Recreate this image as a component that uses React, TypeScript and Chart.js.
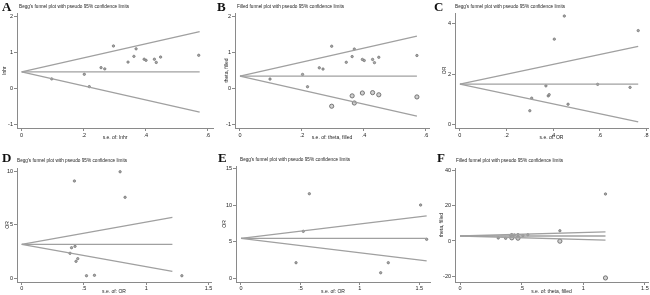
import React, { useEffect, useRef } from 'react';
import { Chart, registerables } from 'chart.js';

Chart.register(...registerables);

const SANS = '"Liberation Sans", Arial, sans-serif';
const SERIF = '"Liberation Serif", "Times New Roman", serif';
const LINE = '#a0a0a0';
const AXIS = '#8a8a8a';
const TEXT = '#222222';

// ---------- Panel A ----------
const seA = [0.097, 0.202, 0.218, 0.256, 0.268, 0.296, 0.343, 0.362, 0.369, 0.395, 0.401, 0.428, 0.434, 0.448, 0.571];
const lnhrA = [0.26, 0.39, 0.045, 0.575, 0.54, 1.18, 0.73, 0.89, 1.10, 0.81, 0.78, 0.81, 0.72, 0.87, 0.92];
const funnelSeA = [0, 0.574];
const upperA = [0.455, 1.58];
const lowerA = [0.455, -0.67];
const centerA = [0.455, 0.455];
const xTicksA = [0, 0.2, 0.4, 0.6];
const xLabelsA = ['0', '.2', '.4', '.6'];
const yTicksA = [-1, 0, 1, 2];
const yLabelsA = ['-1', '0', '1', '2'];

// ---------- Panel B ----------
const seB = seA;
const thetaB = lnhrA;
const seFilledB = [0.296, 0.362, 0.369, 0.395, 0.428, 0.448, 0.571];
const thetaFilledB = [-0.50, -0.21, -0.41, -0.13, -0.12, -0.18, -0.24];
const funnelSeB = [0, 0.571];
const upperB = [0.345, 1.465];
const lowerB = [0.345, -0.775];
const centerB = [0.345, 0.345];

// ---------- Panel C ----------
const seC = [0.300, 0.308, 0.369, 0.379, 0.383, 0.405, 0.448, 0.464, 0.591, 0.730, 0.765];
const orC = [0.54, 1.04, 1.53, 1.13, 1.18, 3.39, 4.31, 0.80, 1.59, 1.47, 3.73];
const funnelSeC = [0, 0.765];
const upperC = [1.60, 3.10];
const lowerC = [1.60, 0.10];
const centerC = [1.60, 1.60];
const xTicksC = [0, 0.2, 0.4, 0.6, 0.8];
const xLabelsC = ['0', '.2', '.4', '.6', '.8'];
const yTicksC = [0, 2, 4];
const yLabelsC = ['0', '2', '4'];

// ---------- Panel D ----------
const seD = [0.388, 0.400, 0.423, 0.428, 0.436, 0.450, 0.520, 0.584, 0.790, 0.830, 1.286];
const orD = [2.33, 2.85, 9.07, 2.98, 1.58, 1.83, 0.24, 0.28, 9.93, 7.55, 0.24];
const funnelSeD = [0, 1.21];
const upperD = [3.17, 5.68];
const lowerD = [3.17, 0.65];
const centerD = [3.17, 3.17];
const xTicksBig = [0, 0.5, 1, 1.5];
const xLabelsBig = ['0', '.5', '1', '1.5'];
const yTicksD = [0, 5, 10];
const yLabelsD = ['0', '5', '10'];

// ---------- Panel E ----------
const seE = [0.463, 0.524, 0.575, 1.175, 1.239, 1.511, 1.562];
const orE = [2.13, 6.41, 11.54, 0.76, 2.13, 10.0, 5.32];
const funnelSeE = [0, 1.562];
const upperE = [5.45, 8.51];
const lowerE = [5.45, 2.39];
const centerE = [5.45, 5.45];
const yTicksE = [0, 5, 10, 15];
const yLabelsE = ['0', '5', '10', '15'];

// ---------- Panel F ----------
const seF = [0.31, 0.37, 0.41, 0.42, 0.44, 0.47, 0.51, 0.55, 0.81, 1.18];
const thetaF = [1.7, 1.5, 3.2, 3.6, 3.4, 3.6, 3.0, 3.5, 5.8, 26.6];
const seFilledF = [0.42, 0.47, 0.81, 1.18];
const thetaFilledF = [1.8, 1.6, -0.1, -20.9];
const funnelSeF = [0, 1.18];
const upperF = [2.83, 5.14];
const lowerF = [2.83, 0.52];
const centerF = [2.83, 2.83];
const yTicksF = [-20, 0, 20, 40];
const yLabelsF = ['-20', '0', '20', '40'];

const BEGG = "Begg's funnel plot with pseudo 95% confidence limits";
const FILLED = 'Filled funnel plot with pseudo 95% confidence limits';

const pts = (xs: number[], ys: number[]) => xs.map((x, i) => ({ x, y: ys[i] }));

const titlePlugin = {
  id: 'panelTitle',
  afterDraw(chart: any, _args: any, opts: any) {
    const ctx = chart.ctx;
    ctx.save();
    ctx.font = `${opts.size}px ${SANS}`;
    ctx.fillStyle = TEXT;
    ctx.textBaseline = 'middle';
    ctx.textAlign = 'left';
    ctx.fillText(opts.text, opts.x, opts.y);
    ctx.restore();
  },
};

type PanelCfg = {
  letter: string;
  letterX: number;
  letterY: number;
  title: string;
  titleX: number;
  titleY: number;
  canvas: { left: number; top: number; w: number; h: number };
  yAxisW: number;
  xAxisH: number;
  padTop: number;
  padRight: number;
  xRange: [number, number];
  yRange: [number, number];
  xTicks: number[];
  xLabels: string[];
  yTicks: number[];
  yLabels: string[];
  xTitle: string;
  yTitle: string;
  yTitlePad: number;
  xTitlePad: number;
  xTickPad: number;
  se: number[];
  val: number[];
  seFilled?: number[];
  valFilled?: number[];
  funnelSe: number[];
  upper: number[];
  lower: number[];
  center: number[];
};

const labelFor = (ticks: number[], labels: string[]) => (v: any) => {
  const i = ticks.findIndex((t) => Math.abs(t - Number(v)) < 1e-9);
  return i >= 0 ? labels[i] : '';
};

function Panel({ cfg }: { cfg: PanelCfg }) {
  const ref = useRef<HTMLCanvasElement>(null);
  useEffect(() => {
    if (!ref.current) return;
    const lineDs = (ys: number[]) => ({
      type: 'line' as const,
      data: pts(cfg.funnelSe, ys),
      borderColor: LINE,
      borderWidth: 1.3,
      pointRadius: 0,
      fill: false,
      tension: 0,
    });
    const datasets: any[] = [lineDs(cfg.upper), lineDs(cfg.lower), lineDs(cfg.center)];
    datasets.push({
      type: 'scatter',
      data: pts(cfg.se, cfg.val),
      pointStyle: 'circle',
      pointRadius: 1.2,
      backgroundColor: '#a8a8a8',
      borderColor: '#6f6f6f',
      borderWidth: 0.7,
    });
    if (cfg.seFilled && cfg.valFilled) {
      datasets.push({
        type: 'scatter',
        data: pts(cfg.seFilled, cfg.valFilled),
        pointStyle: 'circle',
        pointRadius: 2.1,
        backgroundColor: '#d0d0d0',
        borderColor: '#6a6a6a',
        borderWidth: 0.9,
      });
    }
    const tickFont = { family: SANS, size: 5.5 };
    const chart = new Chart(ref.current, {
      type: 'scatter',
      data: { datasets },
      plugins: [titlePlugin],
      options: {
        responsive: false,
        maintainAspectRatio: false,
        animation: false,
        events: [],
        layout: {
          autoPadding: false,
          padding: { top: cfg.padTop, right: cfg.padRight, left: 0, bottom: 0 },
        },
        plugins: {
          legend: { display: false },
          tooltip: { enabled: false },
          // @ts-ignore
          panelTitle: { text: cfg.title, x: cfg.titleX, y: cfg.titleY, size: 4.7 },
        },
        scales: {
          x: {
            type: 'linear',
            position: 'bottom',
            min: cfg.xRange[0],
            max: cfg.xRange[1],
            border: { display: true, color: AXIS, width: 1 },
            grid: { display: true, drawOnChartArea: false, drawTicks: true, tickLength: 3, tickColor: AXIS },
            ticks: {
              font: tickFont,
              color: TEXT,
              padding: cfg.xTickPad,
              maxRotation: 0,
              autoSkip: false,
              callback: labelFor(cfg.xTicks, cfg.xLabels),
            },
            title: {
              display: true,
              text: cfg.xTitle,
              color: TEXT,
              font: { family: SANS, size: 5 },
              padding: { top: 0, bottom: cfg.xTitlePad },
            },
            afterBuildTicks: (axis: any) => {
              axis.ticks = cfg.xTicks.map((v) => ({ value: v }));
            },
            afterFit: (axis: any) => {
              axis.height = cfg.xAxisH;
            },
          },
          y: {
            type: 'linear',
            position: 'left',
            min: cfg.yRange[0],
            max: cfg.yRange[1],
            border: { display: true, color: AXIS, width: 1 },
            grid: { display: true, drawOnChartArea: false, drawTicks: true, tickLength: 3, tickColor: AXIS },
            ticks: {
              font: tickFont,
              color: TEXT,
              padding: 1,
              autoSkip: false,
              callback: labelFor(cfg.yTicks, cfg.yLabels),
            },
            title: {
              display: true,
              text: cfg.yTitle,
              color: TEXT,
              font: { family: SANS, size: 5 },
              padding: { top: cfg.yTitlePad, bottom: 0 },
            },
            afterBuildTicks: (axis: any) => {
              axis.ticks = cfg.yTicks.map((v) => ({ value: v }));
            },
            afterFit: (axis: any) => {
              axis.width = cfg.yAxisW;
            },
          },
        },
      } as any,
    });
    return () => chart.destroy();
  }, [cfg]);

  const c = cfg.canvas;
  return (
    <>
      <canvas
        ref={ref}
        width={c.w}
        height={c.h}
        style={{ position: 'absolute', left: c.left, top: c.top, width: c.w, height: c.h }}
      />
      <div
        style={{
          position: 'absolute',
          left: cfg.letterX,
          top: cfg.letterY - 2.3,
          fontFamily: SERIF,
          fontWeight: 'bold',
          fontSize: 13,
          lineHeight: '13px',
          color: '#111',
        }}
      >
        {cfg.letter}
      </div>
    </>
  );
}

const panels: PanelCfg[] = [
  {
    letter: 'A', letterX: 2, letterY: 2, title: BEGG, titleX: 19, titleY: 6.5,
    canvas: { left: 0, top: 0, w: 216, h: 143 }, yAxisW: 17, xAxisH: 15, padTop: 13, padRight: 3,
    xRange: [-0.015, 0.617], yRange: [-1.11, 2.1], xTicks: xTicksA, xLabels: xLabelsA,
    yTicks: yTicksA, yLabels: yLabelsA, xTitle: 's.e. of: lnhr', yTitle: 'lnhr', yTitlePad: 2, xTitlePad: 2, xTickPad: 1,
    se: seA, val: lnhrA, funnelSe: funnelSeA, upper: upperA, lower: lowerA, center: centerA,
  },
  {
    letter: 'B', letterX: 217, letterY: 2, title: FILLED, titleX: 21, titleY: 6.5,
    canvas: { left: 216, top: 0, w: 216, h: 143 }, yAxisW: 19, xAxisH: 15, padTop: 13, padRight: 3,
    xRange: [-0.016, 0.61], yRange: [-1.11, 2.11], xTicks: xTicksA, xLabels: xLabelsA,
    yTicks: yTicksA, yLabels: yLabelsA, xTitle: 's.e. of: theta, filled', yTitle: 'theta, filled', yTitlePad: 8, xTitlePad: 2, xTickPad: 1,
    se: seB, val: thetaB, seFilled: seFilledB, valFilled: thetaFilledB,
    funnelSe: funnelSeB, upper: upperB, lower: lowerB, center: centerB,
  },
  {
    letter: 'C', letterX: 434, letterY: 2, title: BEGG, titleX: 23, titleY: 6.5,
    canvas: { left: 432, top: 0, w: 218, h: 143 }, yAxisW: 23, xAxisH: 15, padTop: 13, padRight: 2,
    xRange: [-0.021, 0.807], yRange: [-0.147, 4.43], xTicks: xTicksC, xLabels: xLabelsC,
    yTicks: yTicksC, yLabels: yLabelsC, xTitle: 's.e. of: OR', yTitle: 'OR', yTitlePad: 10, xTitlePad: 2, xTickPad: 1,
    se: seC, val: orC, funnelSe: funnelSeC, upper: upperC, lower: lowerC, center: centerC,
  },
  {
    letter: 'D', letterX: 2, letterY: 153, title: BEGG, titleX: 17, titleY: 14.5,
    canvas: { left: 0, top: 146, w: 216, h: 149 }, yAxisW: 17, xAxisH: 13, padTop: 22, padRight: 5,
    xRange: [-0.038, 1.52], yRange: [-0.345, 10.28], xTicks: xTicksBig, xLabels: xLabelsBig,
    yTicks: yTicksD, yLabels: yLabelsD, xTitle: 's.e. of: OR', yTitle: 'OR', yTitlePad: 5, xTitlePad: 0, xTickPad: 0,
    se: seD, val: orD, funnelSe: funnelSeD, upper: upperD, lower: lowerD, center: centerD,
  },
  {
    letter: 'E', letterX: 218, letterY: 153, title: BEGG, titleX: 24, titleY: 13.5,
    canvas: { left: 216, top: 146, w: 216, h: 149 }, yAxisW: 20, xAxisH: 13, padTop: 20, padRight: 2,
    xRange: [-0.042, 1.59], yRange: [-0.5, 15.32], xTicks: xTicksBig, xLabels: xLabelsBig,
    yTicks: yTicksE, yLabels: yLabelsE, xTitle: 's.e. of: OR', yTitle: 'OR', yTitlePad: 6, xTitlePad: 0, xTickPad: 0,
    se: seE, val: orE, funnelSe: funnelSeE, upper: upperE, lower: lowerE, center: centerE,
  },
  {
    letter: 'F', letterX: 437, letterY: 153, title: FILLED, titleX: 24, titleY: 14.5,
    canvas: { left: 432, top: 146, w: 218, h: 149 }, yAxisW: 23, xAxisH: 13, padTop: 22, padRight: 2,
    xRange: [-0.041, 1.525], yRange: [-23.2, 41.3], xTicks: xTicksBig, xLabels: xLabelsBig,
    yTicks: yTicksF, yLabels: yLabelsF, xTitle: 's.e. of: theta, filled', yTitle: 'theta, filled', yTitlePad: 7, xTitlePad: 0, xTickPad: 0,
    se: seF, val: thetaF, seFilled: seFilledF, valFilled: thetaFilledF,
    funnelSe: funnelSeF, upper: upperF, lower: lowerF, center: centerF,
  },
];

export default function App() {
  return (
    <div style={{ position: 'absolute', left: 0, top: 0, width: 650, height: 295, background: '#ffffff', overflow: 'hidden' }}>
      {panels.map((p) => (
        <Panel key={p.letter} cfg={p} />
      ))}
    </div>
  );
}
